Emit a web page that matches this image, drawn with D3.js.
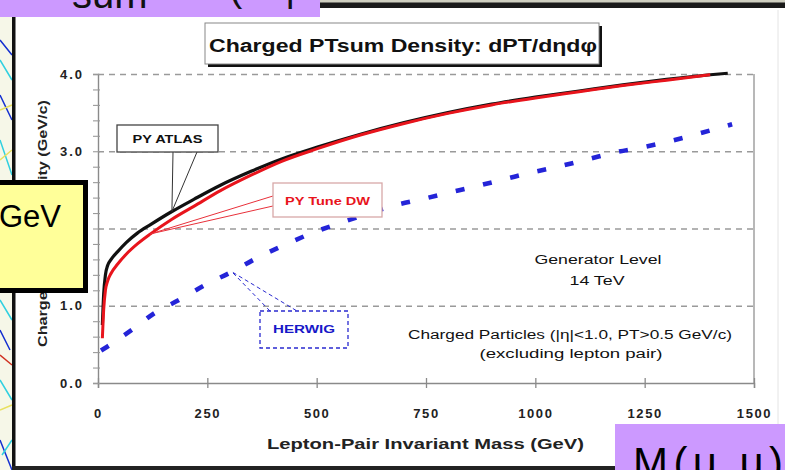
<!DOCTYPE html>
<html>
<head>
<meta charset="utf-8">
<script src="https://cdn.jsdelivr.net/npm/d3@7"></script>
<style>
  html, body { margin: 0; padding: 0; background: #fff; }
  svg { display: block; }
  text { font-family: "Liberation Sans", Arial, sans-serif; }
</style>
</head>
<body>
<svg id="chart" width="785" height="470"></svg>
<script>
// ---- data ----
const xTicks = [0, 250, 500, 750, 1000, 1250, 1500];
const yTicks = [0, 1, 2, 3, 4];
const gridValues = [1, 2, 3, 4];

// PYTHIA ATLAS tune
const atlasMass = [10, 13, 17, 22, 30, 45, 65, 90, 120, 169, 220, 280, 350, 420, 500, 600, 700, 800, 900, 1000, 1100, 1200, 1300, 1400, 1440];
const atlasPt   = [0.75, 1.15, 1.40, 1.52, 1.60, 1.70, 1.82, 1.94, 2.05, 2.22, 2.38, 2.56, 2.74, 2.90, 3.05, 3.22, 3.37, 3.50, 3.61, 3.70, 3.78, 3.86, 3.93, 3.99, 4.01];

// PYTHIA Tune DW
const dwMass = [10, 13, 17, 22, 30, 45, 65, 90, 120, 169, 220, 280, 350, 420, 500, 600, 700, 800, 900, 1000, 1100, 1200, 1300, 1400];
const dwPt   = [0.58, 0.95, 1.20, 1.32, 1.42, 1.54, 1.67, 1.80, 1.93, 2.12, 2.29, 2.49, 2.69, 2.87, 3.03, 3.21, 3.36, 3.49, 3.60, 3.69, 3.77, 3.85, 3.92, 3.99];

// HERWIG
const herwigMass = [7, 21, 78, 128, 187, 245, 306, 364, 428, 489, 553, 617, 679, 741, 800, 867, 931, 995, 1059, 1123, 1187, 1253, 1315, 1381, 1450];
const herwigPt   = [0.42, 0.47, 0.69, 0.90, 1.08, 1.27, 1.44, 1.62, 1.79, 1.94, 2.07, 2.19, 2.30, 2.38, 2.46, 2.55, 2.64, 2.73, 2.81, 2.90, 2.99, 3.06, 3.14, 3.24, 3.35];

const svg = d3.select("#chart");

// ---- slide surroundings ----
// strip of a neighbouring plot on the far left
const strip = svg.append("g");
strip.append("rect").attr("x", 0).attr("y", 17).attr("width", 12).attr("height", 453).attr("fill", "#f6f7e8");
const stripLines = [
  {c: "#1530d0", p: "M0,40 L12,55 M0,95 L12,120 M0,330 L10,350 M0,440 L12,470"},
  {c: "#30d0e0", p: "M0,60 L12,80 M0,140 L12,175 M0,300 L12,320 M0,380 L12,400 M2,455 L12,440"},
  {c: "#e8e060", p: "M0,110 L12,105 M0,160 L12,150 M0,410 L12,405"},
  {c: "#d03020", p: "M0,355 L12,365"}
];
stripLines.forEach(s => strip.append("path").attr("d", s.p).attr("stroke", s.c).attr("stroke-width", 1.5).attr("fill", "none"));
svg.append("rect").attr("x", 12).attr("y", 17).attr("width", 3.5).attr("height", 453).attr("fill", "#111");
svg.append("rect").attr("x", 12).attr("y", 466).attr("width", 773).attr("height", 4).attr("fill", "#222");
svg.append("rect").attr("x", 320).attr("y", 0).attr("width", 465).attr("height", 3).attr("fill", "#cfcfc0");
svg.append("rect").attr("x", 320).attr("y", 2.5).attr("width", 465).attr("height", 5.5).attr("fill", "#1a1a1a");
svg.append("line").attr("x1", 778).attr("x2", 778).attr("y1", 10).attr("y2", 466).attr("stroke", "#e4e4e4");

// ---- scales ----
const x = d3.scaleLinear().domain([0, 1500]).range([98, 754]);
const y = d3.scaleLinear().domain([0, 4]).range([383, 74]);

// ---- grid ----
const grid = svg.append("g").attr("transform", `translate(${x(0)},0)`)
  .call(d3.axisLeft(y).tickValues(gridValues).tickSize(-(x(1500) - x(0) + 3)).tickFormat(""));
grid.select(".domain").remove();
grid.selectAll("line").attr("stroke", "#9a9a9a").attr("stroke-width", 1.4).attr("stroke-dasharray", "6,5");

// right frame edge
svg.append("line").attr("x1", x(1500)).attr("x2", x(1500)).attr("y1", y(4)).attr("y2", y(0))
  .attr("stroke", "#9a9a9a").attr("stroke-width", 1.4);

// ---- axes ----
const xAxis = svg.append("g").attr("transform", `translate(0,${y(0)})`)
  .call(d3.axisBottom(x).tickValues(xTicks).tickSizeOuter(0).tickSize(5).tickFormat(d3.format("d")));
xAxis.select(".domain").attr("stroke", "#8a8a8a").attr("stroke-width", 1.4);
xAxis.selectAll(".tick line").attr("y1", -5).attr("y2", 5).attr("stroke", "#8a8a8a").attr("stroke-width", 1.3);
xAxis.selectAll(".tick text").attr("y", 35).attr("dy", 0)
  .attr("font-size", 13).attr("font-weight", "bold").attr("fill", "#222")
  .attr("letter-spacing", 1.6)
  .attr("font-family", "'Liberation Sans', Arial, sans-serif");

const minorY = d3.range(0, 21).map(i => i * 0.2);
const yAxis = svg.append("g").attr("transform", `translate(${x(0)},0)`)
  .call(d3.axisLeft(y).tickValues(minorY).tickSizeOuter(0).tickSize(5)
    .tickFormat(d => yTicks.some(t => Math.abs(t - d) < 1e-6) ? d3.format(".1f")(d) : ""));
yAxis.select(".domain").attr("stroke", "#8a8a8a").attr("stroke-width", 1.4);
yAxis.selectAll(".tick line").attr("x1", 2).attr("x2", -5).attr("stroke", "#9a9a9a").attr("stroke-width", 1.1);
yAxis.selectAll(".tick text").attr("x", -14)
  .attr("font-size", 13).attr("font-weight", "bold").attr("fill", "#222")
  .attr("letter-spacing", 2)
  .attr("font-family", "'Liberation Sans', Arial, sans-serif");

// axis titles
svg.append("text").attr("x", 267).attr("y", 449)
  .attr("font-size", 14).attr("font-weight", "bold").attr("fill", "#222")
  .attr("textLength", 317).attr("lengthAdjust", "spacingAndGlyphs")
  .text("Lepton-Pair Invariant Mass (GeV)");
svg.append("text").attr("transform", "translate(47,347) rotate(-90)")
  .attr("font-size", 13).attr("font-weight", "bold").attr("fill", "#222")
  .attr("textLength", 247).attr("lengthAdjust", "spacingAndGlyphs")
  .text("Charged PTsum Density (GeV/c)");

// ---- curves ----
const line = d3.line().x(d => x(d[0])).y(d => y(d[1])).curve(d3.curveMonotoneX);
const zip = (a, b) => a.map((v, i) => [v, b[i]]);

svg.append("path").datum(zip(atlasMass, atlasPt)).attr("d", line)
  .attr("fill", "none").attr("stroke", "#111").attr("stroke-width", 3.2);
svg.append("path").datum(zip(dwMass, dwPt)).attr("d", line)
  .attr("fill", "none").attr("stroke", "#e8141c").attr("stroke-width", 3);
svg.append("path").datum(zip(herwigMass, herwigPt)).attr("d", line)
  .attr("fill", "none").attr("stroke", "#2424d8").attr("stroke-width", 4.6)
  .attr("stroke-dasharray", "9,19");

// ---- callouts ----
function callout(o) {
  const g = svg.append("g");
  const tx = x(o.tip[0]), ty = y(o.tip[1]);
  g.append("path")
    .attr("d", `M${o.base[0][0]},${o.base[0][1]} L${tx},${ty} L${o.base[1][0]},${o.base[1][1]}`)
    .attr("fill", "none").attr("stroke", o.lineColor).attr("stroke-width", 1)
    .attr("stroke-dasharray", o.dash || null);
  g.append("rect").attr("x", o.box[0]).attr("y", o.box[1]).attr("width", o.box[2]).attr("height", o.box[3])
    .attr("fill", "#fff").attr("stroke", o.boxColor).attr("stroke-width", 1.3)
    .attr("stroke-dasharray", o.dash || null);
  g.append("text").attr("x", o.box[0] + o.box[2] / 2).attr("y", o.baseline)
    .attr("text-anchor", "middle").attr("font-size", 10.5).attr("font-weight", "bold")
    .attr("fill", o.textColor).attr("textLength", o.width).attr("lengthAdjust", "spacingAndGlyphs")
    .text(o.label);
}
callout({label: "PY ATLAS", tip: [atlasMass[9], atlasPt[9]], box: [117, 125, 101, 27],
  base: [[173, 152], [197, 152]], baseline: 143, width: 70,
  lineColor: "#333", boxColor: "#444", textColor: "#111"});
callout({label: "PY Tune DW", tip: [dwMass[8], dwPt[8]], box: [273, 183, 109, 34],
  base: [[273, 196], [273, 206]], baseline: 205, width: 85,
  lineColor: "#e8303a", boxColor: "#d8a8a8", textColor: "#e8141c"});
callout({label: "HERWIG", tip: [herwigMass[6], herwigPt[6]], box: [260, 311, 88, 37],
  base: [[270, 311], [297, 311]], baseline: 333, width: 62, dash: "4,3",
  lineColor: "#2a2ad0", boxColor: "#2a2ad0", textColor: "#1818c8"});

// ---- plot notes ----
const notes = [
  {t: "Generator Level", cx: 598, y: 264, w: 127},
  {t: "14 TeV", cx: 597, y: 285, w: 55},
  {t: "Charged Particles (|η|<1.0, PT>0.5 GeV/c)", cx: 570, y: 339, w: 324},
  {t: "(excluding lepton pair)", cx: 571, y: 358, w: 183}
];
notes.forEach(n => svg.append("text").attr("x", n.cx).attr("y", n.y).attr("text-anchor", "middle")
  .attr("font-size", 12).attr("fill", "#111").attr("textLength", n.w).attr("lengthAdjust", "spacingAndGlyphs")
  .text(n.t));

// ---- title box ----
svg.append("rect").attr("x", 208).attr("y", 26).attr("width", 394).attr("height", 41).attr("fill", "#111");
svg.append("rect").attr("x", 205).attr("y", 23).attr("width", 394).attr("height", 41)
  .attr("fill", "#fff").attr("stroke", "#888").attr("stroke-width", 1);
svg.append("text").attr("x", 209).attr("y", 52)
  .attr("font-size", 18).attr("font-weight", "bold").attr("fill", "#111")
  .attr("textLength", 388).attr("lengthAdjust", "spacingAndGlyphs")
  .text("Charged PTsum Density: dPT/dηdφ");

// ---- slide overlays ----
svg.append("rect").attr("x", 0).attr("y", 0).attr("width", 320).attr("height", 17).attr("fill", "#cc99ff");
svg.append("text").attr("x", 72).attr("y", 8).attr("font-size", 40).attr("fill", "#111")
  .attr("font-family", "Arial, 'Liberation Sans', sans-serif").text("sum");
svg.append("text").attr("x", 229).attr("y", 1).attr("font-size", 40).attr("fill", "#111").text("(");
svg.append("text").attr("x", 285).attr("y", 1).attr("font-size", 40).attr("fill", "#111").text("|");

svg.append("rect").attr("x", -10).attr("y", 182.5).attr("width", 95.5).attr("height", 108)
  .attr("fill", "#ffff99").attr("stroke", "#000").attr("stroke-width", 5);
svg.append("text").attr("x", -1).attr("y", 227).attr("font-size", 31).attr("fill", "#000").text("GeV");

svg.append("rect").attr("x", 615).attr("y", 424).attr("width", 170).attr("height", 46).attr("fill", "#cc99ff");
svg.append("text").attr("x", 633).attr("y", 477).attr("font-size", 42).attr("fill", "#000")
  .attr("textLength", 150).attr("lengthAdjust", "spacing").text("M(μ μ)");
</script>
</body>
</html>
